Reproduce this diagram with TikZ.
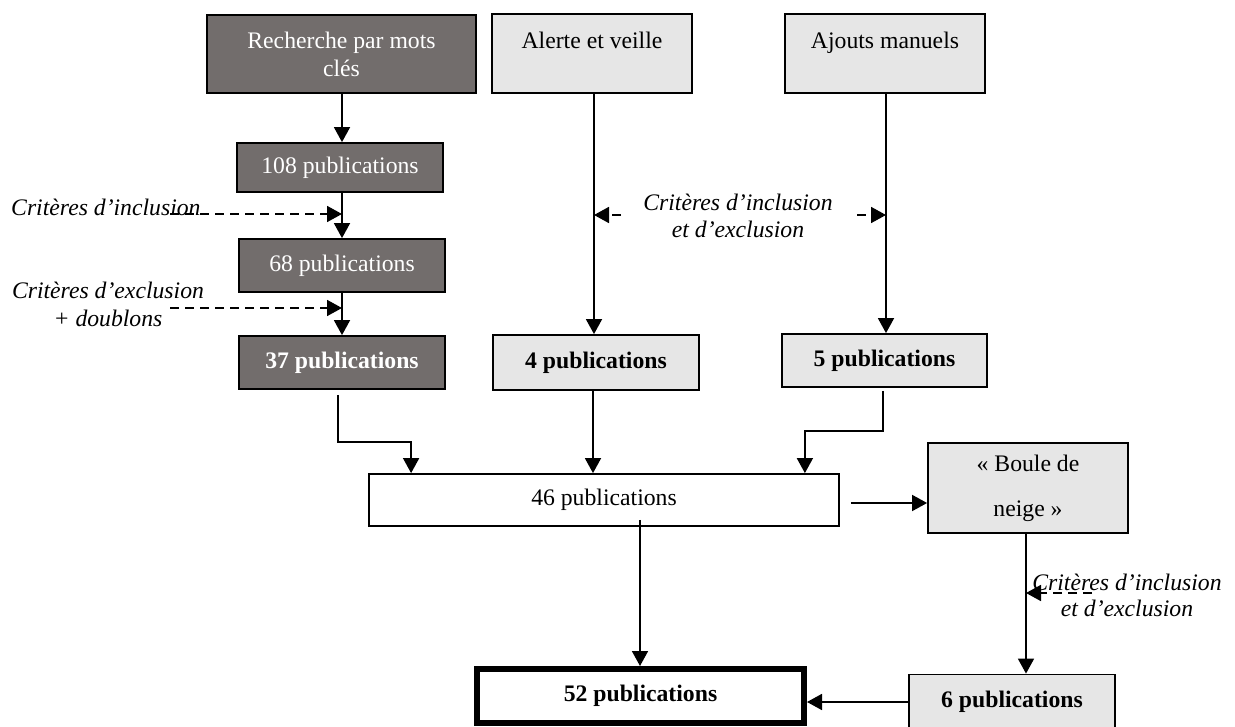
\documentclass[tikz,border=0pt]{standalone}
\usepackage{fontspec}
\setmainfont{Liberation Serif}
\usetikzlibrary{arrows.meta,calc}
\definecolor{darkfill}{RGB}{114,109,108}
\definecolor{lightfill}{RGB}{230,230,230}
\begin{document}
\begin{tikzpicture}[x=1pt,y=-1pt,
  boxbase/.style={draw=black,line width=1.8pt,inner sep=0pt,font=\fontsize{23.7}{28}\selectfont,align=center},
  darkbox/.style={boxbase,fill=darkfill,text=white},
  lightbox/.style={boxbase,fill=lightfill},
  whitebox/.style={boxbase,fill=white},
  boldtext/.style={font=\fontsize{23.7}{28}\selectfont\bfseries},
  arr/.style={line width=1.7pt,-{Triangle[length=15pt,width=16pt]}},
  darr/.style={arr,dash pattern=on 9pt off 6pt},
  crit/.style={font=\fontsize{23.7}{28}\selectfont\itshape,inner sep=0pt,align=center}]
\useasboundingbox (0,0) rectangle (1235,727);
\fill[white] (0,0) rectangle (1235,727);

% left column
\node[darkbox,minimum width=269pt,minimum height=78pt] (rech) at (341.5,54) {Recherche par mots\\clés};
\node[darkbox,minimum width=206pt,minimum height=49pt] (p108) at (340,167.5) {108 publications};
\node[darkbox,minimum width=206pt,minimum height=53pt] (p68) at (342,265.5) {68 publications};
\node[darkbox,boldtext,minimum width=206pt,minimum height=53pt] (p37) at (342,362.5) {37 publications};

% middle and right columns
\node[lightbox,minimum width=200pt,text height=35pt,text depth=44pt,anchor=north] (alerte) at (592,13) {Alerte et veille};
\node[lightbox,minimum width=200pt,text height=35pt,text depth=44pt,anchor=north] (ajouts) at (885,13) {Ajouts manuels};
\node[lightbox,boldtext,minimum width=206pt,minimum height=55pt] (p4) at (596,362.5) {4 publications};
\node[lightbox,boldtext,minimum width=205pt,minimum height=53pt] (p5) at (884.5,360.5) {5 publications};

% lower part
\node[whitebox,minimum width=470pt,minimum height=52pt] (p46) at (604,500) {46 publications};
\node[lightbox,minimum width=200pt,minimum height=90pt,font=\fontsize{23.7}{45}\selectfont] (boule) at (1028,488) {«~Boule de\\neige~»};
\node[whitebox,boldtext,line width=6pt,minimum width=327pt,minimum height=54pt] (p52) at (640.5,696) {52 publications};
\node[lightbox,boldtext,minimum width=206pt,minimum height=55pt] (p6) at (1012,702) {6 publications};

% criteria labels
\node[crit,anchor=west] (c1) at (11,207) {Critères d’inclusion};
\node[crit] (c2) at (108,304) {Critères d’exclusion\\+ doublons};
\node[crit,font=\fontsize{23.7}{27}\selectfont\itshape] (c3) at (738,215.5) {Critères d’inclusion\\et d’exclusion};
\node[crit,font=\fontsize{23.7}{26}\selectfont\itshape] (c4) at (1127,595) {Critères d’inclusion\\et d’exclusion};

% anchor points for the vertical connectors
\coordinate (ab) at ($(alerte.south)+(2,0)$);
\coordinate (jb) at ($(ajouts.south)+(1,0)$);
\coordinate (bb) at ($(boule.south)+(-2,0)$);

% left column arrows
\draw[arr] (rech.south -| p68) -- (p108.north -| p68);
\draw[arr] (p108.south -| p68) -- (p68.north);
\draw[arr] (p68.south) -- (p37.north);
\coordinate (d1) at (170,214);
\draw[darr] (d1) -- (d1 -| p68);
\coordinate (d2) at (170,308);
\draw[darr] (d2) -- (d2 -| p68);

% middle/right arrows
\draw[arr] (ab) -- (ab |- p4.north);
\draw[arr] (jb) -- (jb |- p5.north);
\coordinate (d3) at (621,215);
\draw[darr] (d3) -- (d3 -| ab);
\coordinate (d4) at (857,215);
\draw[darr] (d4) -- (d4 -| jb);

% into 46
\draw[arr] ($(p37.south)+(-4,5)$) -- ++(0,47) -| ($(p46.north west)+(43,0)$);
\draw[arr] ([xshift=-3pt]p4.south) -- ([xshift=-3pt]p4.south |- p46.north);
\draw[arr] ($(p5.south)+(-1.5,3)$) -- ++(0,40) -| ($(p46.north east)+(-35,0)$);

% from 46
\coordinate (e1) at ($(p46.east)+(11,3)$);
\draw[arr] (e1) -- (e1 -| boule.west);
\coordinate (e2) at ($(p46.south)+(36,-7)$);
\draw[arr] (e2) -- (e2 |- p52.north);

% snowball
\draw[arr] (bb) -- (bb |- p6.north);
\coordinate (d5) at (1092,593);
\draw[darr] (d5) -- (d5 -| bb);
\draw[arr] (p6.west) -- (p6.west -| p52.east);
\end{tikzpicture}
\end{document}
